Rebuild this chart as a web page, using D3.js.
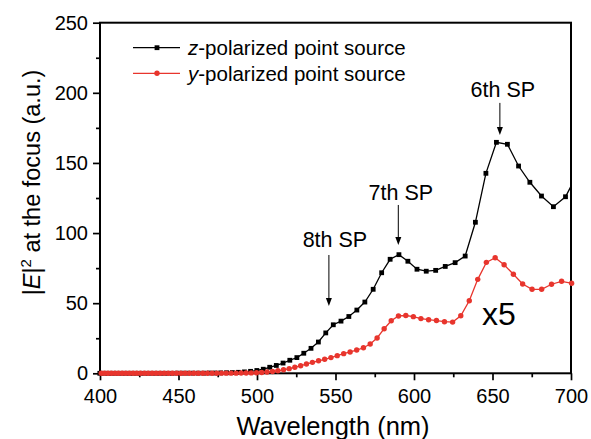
<!DOCTYPE html>
<html>
<head>
<meta charset="utf-8">
<script src="https://cdn.jsdelivr.net/npm/d3@7"></script>
<style>
  html, body { margin: 0; padding: 0; background: #fff; }
  svg { display: block; font-family: "Liberation Sans", Arial, Helvetica, sans-serif; }
</style>
</head>
<body>
<svg id="chart" width="591" height="439"></svg>
<script>
// z-polarized source: samples every 0.02 eV, wavelength in nm
const zWavelength = [
  399.9, 402.5, 405.2, 407.8, 410.5, 413.3, 416.1, 418.9, 421.7, 424.6,
  427.5, 430.5, 433.5, 436.6, 439.7, 442.8, 446.0, 449.2, 452.5, 455.8,
  459.2, 462.6, 466.1, 469.6, 473.2, 476.9, 480.6, 484.3, 488.1, 492.0,
  495.9, 499.9, 504.0, 508.1, 512.3, 516.6, 520.9, 525.4, 529.8, 534.4,
  539.1, 543.8, 548.6, 553.5, 558.5, 563.6, 568.7, 574.0, 579.4, 584.8,
  590.4, 596.1, 601.9, 607.8, 613.8, 619.9, 626.2, 632.6, 639.1, 645.8,
  652.5, 659.5, 666.6, 673.8, 681.2, 688.8, 696.5, 704.5
];
const zIntensity = [
  0, 0, 0, 0, 0, 0, 0, 0, 0, 0,
  0, 0, 0, 0, 0, 0, 0, 0.1, 0.1, 0.1,
  0.1, 0.1, 0.1, 0.2, 0.2, 0.3, 0.4, 0.5, 0.7, 1.0,
  1.4, 2.0, 2.9, 4.3, 5.6, 7.3, 9.3, 11.2, 14.3, 17.8,
  22.3, 28.8, 34.6, 37.2, 40.5, 45.1, 50.8, 59.9, 71.7, 81.3,
  84.6, 79.9, 74.2, 72.8, 73.4, 76.2, 78.9, 83.6, 107.7, 142.6,
  164.7, 163.3, 147.8, 136.2, 126.4, 118.8, 125.9, 143.0
];

// y-polarized source (scaled x5): samples every 4 THz, wavelength in nm
const yWavelength = [
  400.8, 402.9, 405.1, 407.3, 409.6, 411.8, 414.1, 416.4, 418.7, 421.1,
  423.4, 425.8, 428.3, 430.7, 433.2, 435.7, 438.3, 440.9, 443.5, 446.1,
  448.8, 451.5, 454.2, 457.0, 459.8, 462.6, 465.5, 468.4, 471.4, 474.4,
  477.4, 480.4, 483.5, 486.7, 489.9, 493.1, 496.3, 499.7, 503.0, 506.4,
  509.9, 513.3, 516.9, 520.5, 524.1, 527.8, 531.5, 535.3, 539.2, 543.1,
  547.1, 551.1, 555.2, 559.3, 563.5, 567.8, 572.1, 576.5, 581.0, 585.5,
  590.1, 594.8, 599.6, 604.4, 609.3, 614.3, 619.4, 624.6, 629.8, 635.2,
  640.6, 646.1, 651.7, 657.4, 663.3, 669.2, 675.2, 681.3, 687.6, 694.0,
  700.4
];
const yIntensity = [
  0, 0, 0, 0, 0, 0, 0, 0, 0, 0,
  0, 0, 0, 0, 0, 0, 0, 0, 0, 0,
  0, 0, 0, 0, 0, 0, 0, 0, 0, 0,
  0.1, 0.1, 0.1, 0.1, 0.2, 0.2, 0.3, 0.4, 0.6, 0.9,
  1.3, 1.8, 2.5, 3.3, 4.3, 5.4, 6.6, 7.8, 8.9, 10.0,
  11.2, 12.6, 14.0, 15.2, 16.6, 18.2, 20.9, 25.2, 31.8, 37.5,
  40.9, 41.2, 40.4, 39.0, 38.2, 37.6, 36.8, 36.5, 41.0, 51.7,
  67.0, 79.1, 82.4, 77.4, 70.6, 63.7, 59.9, 59.9, 63.5, 65.6,
  64.2
];

const xTicks = [400, 450, 500, 550, 600, 650, 700];
const xMinorTicks = [425, 475, 525, 575, 625, 675];
const yTicks = [0, 50, 100, 150, 200, 250];
const yMinorTicks = [25, 75, 125, 175, 225];

const legendItalic = ["z", "y"];
const legendRest = ["-polarized point source", "-polarized point source"];

const peakLabels = ["8th SP", "7th SP", "6th SP"];
const peakWavelengths = [545.8, 590.0, 654.7];
const peakArrowTips = [48, 91.5, 170];   // value where each arrow ends
const scaleNote = "x5";

// ---- drawing ----
const svg = d3.select("#chart");
const plotLeft = 100, plotRight = 571, plotTop = 22.7, plotBottom = 373.3;
const RED = "#e8352d";

const x = d3.scaleLinear().domain([400, 700]).range([plotLeft, plotRight]);
const y = d3.scaleLinear().domain([0, 250]).range([plotBottom, plotTop]);

svg.append("defs").append("clipPath").attr("id", "plotClip")
  .append("rect").attr("x", plotLeft).attr("y", 0)
  .attr("width", plotRight - plotLeft).attr("height", 439);

// axes: major and minor ticks pointing outward
const tickFont = "20px";
const gx = svg.append("g").attr("transform", `translate(0,${plotBottom})`)
  .call(d3.axisBottom(x).tickValues(xTicks).tickSize(7).tickPadding(8.5).tickFormat(d3.format("d")));
const gxm = svg.append("g").attr("transform", `translate(0,${plotBottom})`)
  .call(d3.axisBottom(x).tickValues(xMinorTicks).tickSize(4).tickFormat(""));
const gy = svg.append("g").attr("transform", `translate(${plotLeft},0)`)
  .call(d3.axisLeft(y).tickValues(yTicks).tickSize(7).tickPadding(5).tickFormat(d3.format("d")));
const gym = svg.append("g").attr("transform", `translate(${plotLeft},0)`)
  .call(d3.axisLeft(y).tickValues(yMinorTicks).tickSize(4).tickFormat(""));

[gx, gxm, gy, gym].forEach(g => {
  g.select(".domain").remove();
  g.selectAll(".tick line").attr("stroke", "#000").attr("stroke-width", 1.7);
  g.selectAll(".tick text").attr("font-size", tickFont).attr("fill", "#000")
    .attr("font-family", "Liberation Sans, Arial, sans-serif");
});

// frame
svg.append("rect")
  .attr("x", plotLeft).attr("y", plotTop)
  .attr("width", plotRight - plotLeft).attr("height", plotBottom - plotTop)
  .attr("fill", "none").attr("stroke", "#000").attr("stroke-width", 2);

// axis titles
svg.append("text")
  .attr("x", 333).attr("y", 435)
  .attr("text-anchor", "middle").attr("font-size", "25.5px").attr("fill", "#000")
  .text("Wavelength (nm)");

const yTitle = svg.append("text")
  .attr("transform", "translate(40,182.5) rotate(-90)")
  .attr("text-anchor", "middle").attr("font-size", "23.5px").attr("fill", "#000");
yTitle.append("tspan").text("|");
yTitle.append("tspan").attr("font-style", "italic").text("E");
yTitle.append("tspan").text("|");
yTitle.append("tspan").attr("font-size", "15px").attr("dy", "-9").text("2");
yTitle.append("tspan").attr("dy", "9").text(" at the focus (a.u.)");

// series
const zData = zWavelength.map((w, i) => ({ w, v: zIntensity[i] }));
const yData = yWavelength.map((w, i) => ({ w, v: yIntensity[i] }));
const line = d3.line().x(d => x(d.w)).y(d => y(d.v));
const inView = d => d.w <= 701;

const plot = svg.append("g");

plot.append("path").datum(zData)
  .attr("clip-path", "url(#plotClip)")
  .attr("d", line).attr("fill", "none").attr("stroke", "#000").attr("stroke-width", 1.3);
plot.append("g").selectAll("rect").data(zData.filter(inView)).join("rect")
  .attr("x", d => x(d.w) - 2.4).attr("y", d => y(d.v) - 2.4)
  .attr("width", 4.8).attr("height", 4.8).attr("fill", "#000");

plot.append("path").datum(yData)
  .attr("clip-path", "url(#plotClip)")
  .attr("d", line).attr("fill", "none").attr("stroke", RED).attr("stroke-width", 1.3);
plot.append("g").selectAll("circle").data(yData.filter(inView)).join("circle")
  .attr("cx", d => x(d.w)).attr("cy", d => y(d.v))
  .attr("r", 2.7).attr("fill", RED);

// legend
const legendY = [47.7, 73.3];
const legendColors = ["#000", RED];
legendItalic.forEach((it, i) => {
  const g = svg.append("g");
  g.append("line").attr("x1", 133).attr("x2", 180)
    .attr("y1", legendY[i]).attr("y2", legendY[i])
    .attr("stroke", legendColors[i]).attr("stroke-width", 1.3);
  if (i === 0) {
    g.append("rect").attr("x", 157 - 2.4).attr("y", legendY[i] - 2.4)
      .attr("width", 4.8).attr("height", 4.8).attr("fill", "#000");
  } else {
    g.append("circle").attr("cx", 157).attr("cy", legendY[i]).attr("r", 2.7).attr("fill", RED);
  }
  const t = g.append("text").attr("x", 188).attr("y", legendY[i] + 7.6)
    .attr("font-size", "20.5px").attr("fill", "#000");
  t.append("tspan").attr("font-style", "italic").text(it);
  t.append("tspan").text(legendRest[i]);
});

// peak annotations with arrows
const arrowLen = [51, 40, 32];
const labelGap = [7.7, 5, 6];
const labelShift = [6, 2.5, 3];
const ann = svg.append("g");
peakLabels.forEach((lab, i) => {
  const ax = x(peakWavelengths[i]);
  const tipY = y(peakArrowTips[i]);
  const topY = tipY - arrowLen[i];
  ann.append("line").attr("x1", ax).attr("x2", ax)
    .attr("y1", topY).attr("y2", tipY - 6)
    .attr("stroke", "#000").attr("stroke-width", 1);
  ann.append("path")
    .attr("d", `M${ax - 3},${tipY - 8} L${ax + 3},${tipY - 8} L${ax},${tipY} Z`)
    .attr("fill", "#000");
  ann.append("text").attr("x", ax + labelShift[i]).attr("y", topY - labelGap[i])
    .attr("text-anchor", "middle").attr("font-size", "21.5px").attr("fill", "#000")
    .text(lab);
});

svg.append("text").attr("x", 482).attr("y", 325)
  .attr("font-size", "32px").attr("fill", "#000").text(scaleNote);
</script>
</body>
</html>
